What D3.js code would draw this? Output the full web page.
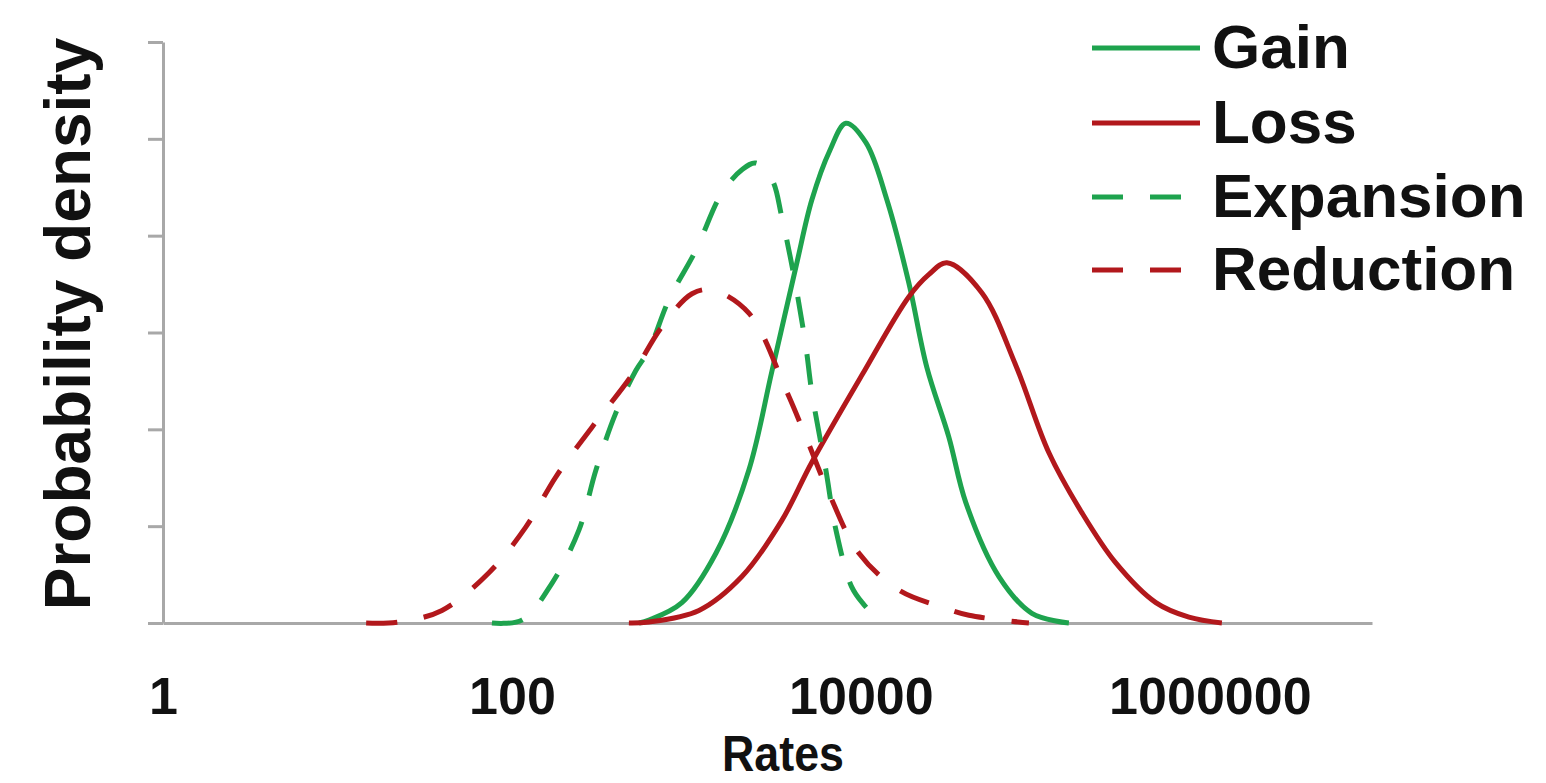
<!DOCTYPE html>
<html>
<head>
<meta charset="utf-8">
<script src="https://cdnjs.cloudflare.com/ajax/libs/d3/7.8.5/d3.min.js"></script>
<style>
  body { margin: 0; background: #fff; }
  text { font-family: "Liberation Sans", Arial, Helvetica, sans-serif; font-weight: bold; fill: #111; }
</style>
</head>
<body>
<script>
// values: rate (log axis) and probability density (tick units)
const gainRate = [535, 610, 942, 1476, 2280, 3090, 4246, 5236, 6637, 8204, 10690, 14090, 18840, 23880, 31920, 39990, 61800, 95500, 155600];
const gainDensity = [0, 0.03, 0.21, 0.72, 1.58, 2.60, 3.68, 4.37, 4.88, 5.16, 4.96, 4.37, 3.51, 2.64, 1.92, 1.24, 0.48, 0.10, 0];

const lossRate = [468, 610, 1180, 2080, 3524, 5236, 10140, 18840, 24550, 31110, 49320, 77270, 119400, 184600, 289100, 490400, 758600, 1172000];
const lossDensity = [0, 0.01, 0.13, 0.48, 1.06, 1.66, 2.56, 3.37, 3.60, 3.72, 3.41, 2.66, 1.76, 1.14, 0.62, 0.21, 0.06, 0];

const expansionRate = [76.8, 114, 169.5, 242, 303, 394, 514, 610, 794, 1133, 1596, 2080, 2500, 3090, 3524, 4246, 4842, 5236, 6298, 7194, 8872, 10400, 13190];
const expansionDensity = [0, 0.03, 0.41, 0.96, 1.58, 2.17, 2.61, 2.82, 3.34, 3.85, 4.44, 4.68, 4.75, 4.58, 4.19, 3.47, 2.85, 2.38, 1.58, 0.96, 0.37, 0.19, 0];

const reductionRate = [14.6, 22.5, 39.7, 73.8, 120, 178.6, 287, 487, 724, 1076, 1400, 2280, 3715, 4842, 6561, 9750, 16520, 29110, 41590, 91830];
const reductionDensity = [0, 0.01, 0.13, 0.52, 0.99, 1.51, 2.02, 2.56, 3.06, 3.40, 3.44, 3.20, 2.41, 1.92, 1.34, 0.72, 0.34, 0.165, 0.08, 0];

const xTicks = [1, 100, 10000, 1000000];
const yTicks = [0, 1, 2, 3, 4, 5, 6];

const GREEN = '#1ea34e';
const RED = '#b2181c';
const DASH = '31,27';

const series = [
  { name: 'Gain', rate: gainRate, density: gainDensity, color: GREEN, dash: null },
  { name: 'Loss', rate: lossRate, density: lossDensity, color: RED, dash: null },
  { name: 'Expansion', rate: expansionRate, density: expansionDensity, color: GREEN, dash: DASH },
  { name: 'Reduction', rate: reductionRate, density: reductionDensity, color: RED, dash: DASH }
];

const W = 1546, H = 783;
const svg = d3.select('body').append('svg')
  .attr('width', W)
  .attr('height', H);

const x = d3.scaleLog().domain([1, 8.5e6]).range([163, 1372]);
const y = d3.scaleLinear().domain([0, 6]).range([623, 42]);

// y axis: gray line with short ticks, no labels
const yAxisG = svg.append('g')
  .attr('transform', `translate(${x(1)},0)`)
  .call(d3.axisLeft(y).tickValues(yTicks).tickSize(15).tickSizeOuter(0).tickFormat(''));
yAxisG.selectAll('path, line').attr('stroke', '#a8a8a8').attr('stroke-width', 3);

// x axis: baseline + bold labels
const xAxisG = svg.append('g')
  .attr('transform', `translate(0,${y(0)})`)
  .call(d3.axisBottom(x).tickValues(xTicks).tickSize(0).tickSizeOuter(0).tickPadding(54).tickFormat(d3.format('d')));
xAxisG.select('.domain').attr('stroke', '#a8a8a8').attr('stroke-width', 3);
xAxisG.selectAll('text')
  .attr('font-size', 52)
  .attr('font-family', '"Liberation Sans", Arial, sans-serif')
  .attr('font-weight', 'bold')
  .attr('fill', '#111');

svg.append('text')
  .attr('x', 783)
  .attr('y', 771)
  .attr('text-anchor', 'middle')
  .attr('font-size', 50)
  .attr('textLength', 122)
  .attr('lengthAdjust', 'spacingAndGlyphs')
  .text('Rates');

svg.append('text')
  .attr('transform', 'translate(90,324) rotate(-90)')
  .attr('text-anchor', 'middle')
  .attr('font-size', 64)
  .text('Probability density');

const line = d3.line()
  .x(d => x(d[0]))
  .y(d => y(d[1]))
  .curve(d3.curveCatmullRom.alpha(0.5));

svg.append('g').selectAll('path')
  .data(series)
  .enter().append('path')
  .attr('d', s => line(d3.zip(s.rate, s.density)))
  .attr('fill', 'none')
  .attr('stroke', s => s.color)
  .attr('stroke-width', 5)
  .attr('stroke-dasharray', s => s.dash)
  .attr('stroke-linejoin', 'round');

// legend
const legend = svg.append('g');
const legendRowY = [48, 123, 197, 270];
const rows = legend.selectAll('g')
  .data(series)
  .enter().append('g')
  .attr('transform', (s, i) => `translate(0,${legendRowY[i]})`);

rows.append('line')
  .attr('x1', 1092)
  .attr('x2', s => s.dash ? 1186 : 1200)
  .attr('stroke', s => s.color)
  .attr('stroke-width', 5)
  .attr('stroke-dasharray', s => s.dash);

rows.append('text')
  .attr('x', 1212)
  .attr('y', 20)
  .attr('font-size', 62)
  .text(s => s.name);
</script>
</body>
</html>
